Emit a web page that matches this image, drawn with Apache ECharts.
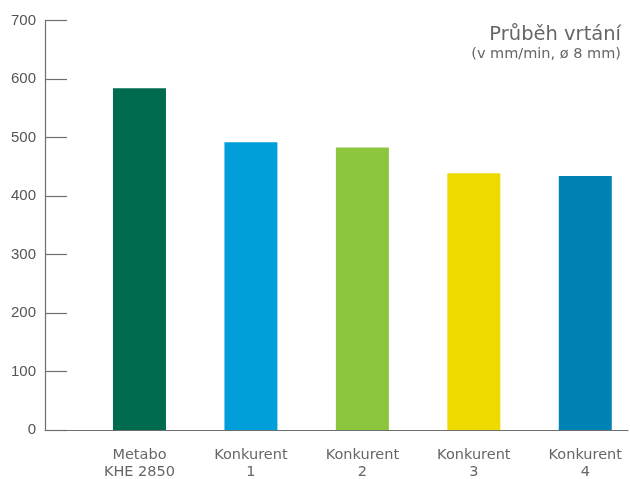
<!DOCTYPE html>
<html><head><meta charset="utf-8">
<script src="https://cdn.jsdelivr.net/npm/echarts@6/dist/echarts.min.js"></script>
<style>html,body{margin:0;padding:0;background:#fff}#c{width:630px;height:479px}</style>
</head><body><div id="c"></div>
<script>
const categories = ['Metabo\nKHE 2850', 'Konkurent\n1', 'Konkurent\n2', 'Konkurent\n3', 'Konkurent\n4'];
const values = [584, 492, 483, 439, 434];
const barColors = ['#006b4f', '#009fda', '#8cc63f', '#eddb00', '#0083b4'];
const yTicks = { min: 0, max: 700, interval: 100 };
const titleText = 'Průběh vrtání';
const subtitleText = '(v mm/min, ø 8 mm)';

const FONT = 'DejaVu Sans';
const GRAY = '#6e6e6e';
const chart = echarts.init(document.getElementById('c'), null, { renderer: 'canvas' });
chart.setOption({
  animation: false,
  backgroundColor: '#fff',
  title: [
    { text: titleText, right: 4, top: 20,
      textStyle: { fontFamily: FONT, fontSize: 19.5, fontWeight: 'normal', color: '#666' } },
    { text: subtitleText, right: 4, top: 42,
      textStyle: { fontFamily: FONT, fontSize: 14.5, fontWeight: 'normal', color: '#666' } }
  ],
  grid: [
    { left: 45, right: 2, top: 20.5, bottom: 49, outerBoundsMode: 'none', containLabel: false },
    { left: 83.75, right: -11, top: 20.5, bottom: 49, outerBoundsMode: 'none', containLabel: false }
  ],
  xAxis: [
    { type: 'category', gridIndex: 0, data: categories,
      axisLine: { show: true, lineStyle: { color: GRAY, width: 1.2 } },
      axisTick: { show: false }, axisLabel: { show: false }, splitLine: { show: false } },
    { type: 'category', gridIndex: 1, data: categories,
      axisLine: { show: false }, axisTick: { show: false },
      axisLabel: { fontFamily: FONT, fontSize: 14.5, color: '#666', margin: 17, lineHeight: 17, interval: 0 } }
  ],
  yAxis: [
    { type: 'value', gridIndex: 0, min: yTicks.min, max: yTicks.max, interval: yTicks.interval,
      axisLine: { show: true, lineStyle: { color: GRAY, width: 1.2 } },
      axisTick: { show: true, inside: true, length: 22, lineStyle: { color: GRAY, width: 1.2 } },
      axisLabel: { fontFamily: 'Liberation Sans', fontSize: 15, color: '#555', margin: 9 },
      splitLine: { show: false } },
    { type: 'value', gridIndex: 1, min: yTicks.min, max: yTicks.max, interval: yTicks.interval, show: false }
  ],
  series: [{
    type: 'bar', xAxisIndex: 1, yAxisIndex: 1, barWidth: 53,
    data: values.map((v, i) => ({ value: v, itemStyle: { color: barColors[i] } }))
  }]
});
</script></body></html>
